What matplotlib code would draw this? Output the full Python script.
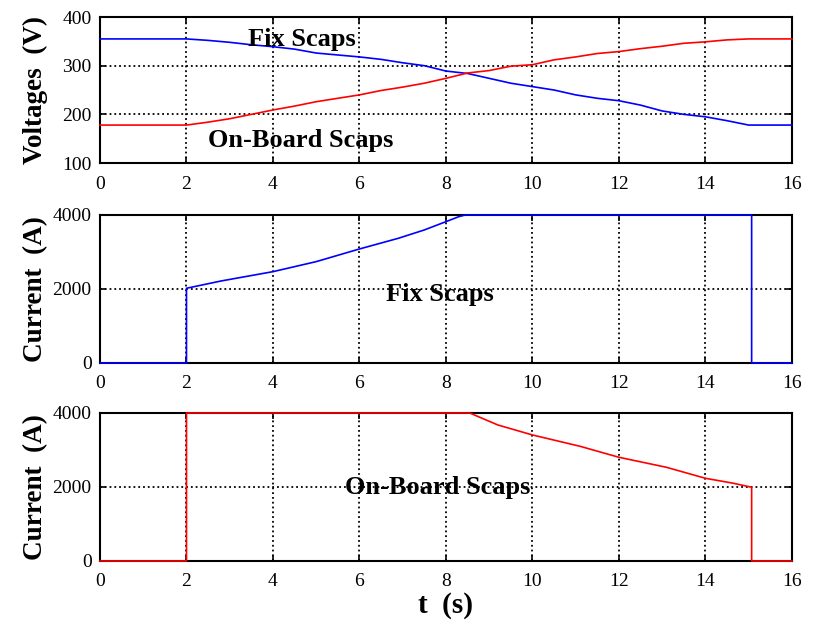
import numpy as np
import matplotlib
matplotlib.use('Agg')
import matplotlib.pyplot as plt

# Voltages (V)
t_v = [0, 2, 2.5, 3, 3.5, 4, 4.5, 5, 5.5, 6, 6.5, 7, 7.5, 8, 8.5, 9, 9.5,
       10, 10.5, 11, 11.5, 12, 12.5, 13, 13.5, 14, 14.5, 15, 16]
v_fix = [355, 355, 352, 348, 343, 339, 334, 326, 322, 318, 313, 306, 300, 289,
         284, 274, 264, 257, 250, 240, 233, 228, 219, 207, 200, 195, 187, 178, 178]
v_onboard = [178, 178, 184, 191, 200, 209, 217, 226, 233, 240, 249, 256, 264,
             274, 285, 290, 299, 302, 312, 318, 325, 329, 335, 340, 346, 349,
             353, 355, 355]

# Fix Scaps current (A)
t_ifix = [0, 2, 2, 2.8, 4, 5, 6, 6.9, 7.5, 8, 8.3, 8.45, 15.07, 15.07, 16]
i_fix = [0, 0, 2019, 2216, 2468, 2739, 3081, 3370, 3595, 3819, 3955, 4000,
         4000, 0, 0]

# On-Board Scaps current (A)
t_iob = [0, 2, 2, 8.55, 9.2, 10, 11.1, 12, 13.1, 14, 14.65, 15.07, 15.07, 16]
i_onboard = [0, 0, 4000, 4000, 3676, 3406, 3100, 2803, 2532, 2235, 2100, 1992,
             0, 0]

plt.rcParams['font.family'] = ['Liberation Serif', 'DejaVu Serif']

fig = plt.figure(figsize=(8.13, 6.28), dpi=100)
left, width = 0.123, 0.851
ax1 = fig.add_axes([left, 0.7404, width, 0.2325])
ax2 = fig.add_axes([left, 0.4220, width, 0.2357])
ax3 = fig.add_axes([left, 0.1067, width, 0.2357])

ax1.plot(t_v, v_fix, color='#0000ff', lw=1.2, zorder=3, clip_on=False)
ax1.plot(t_v, v_onboard, color='#ff0000', lw=1.2, zorder=3, clip_on=False)
ax1.set_ylim(100, 400)
ax1.set_yticks([100, 200, 300, 400])
ax1.set_ylabel('Voltages  (V)', fontsize=19.5, fontweight='bold')
ax1.text(4.68, 353, 'Fix Scaps', fontsize=19, fontweight='bold',
         ha='center', va='center')
ax1.text(4.65, 147, 'On-Board Scaps', fontsize=19, fontweight='bold',
         ha='center', va='center')

ax2.plot(t_ifix, i_fix, color='#0000ff', lw=1.2, zorder=3, clip_on=False)
ax2.set_ylim(0, 4000)
ax2.set_yticks([0, 2000, 4000])
ax2.set_ylabel('Current  (A)', fontsize=19.5, fontweight='bold')
ax2.text(7.86, 1838, 'Fix Scaps', fontsize=19, fontweight='bold',
         ha='center', va='center')

ax3.plot(t_iob, i_onboard, color='#ff0000', lw=1.2, zorder=3, clip_on=False)
ax3.set_ylim(0, 4000)
ax3.set_yticks([0, 2000, 4000])
ax3.set_ylabel('Current  (A)', fontsize=19.5, fontweight='bold')
ax3.text(7.8, 1973, 'On-Board Scaps', fontsize=19, fontweight='bold',
         ha='center', va='center')
ax3.set_xlabel('t  (s)', fontsize=21, fontweight='bold', labelpad=1)

for ax in (ax1, ax2, ax3):
    ax.set_xlim(0, 16)
    ax.set_xticks(np.arange(0, 17, 2))
    ax.grid(True, color='black', linestyle=':', linewidth=1.3)
    ax.tick_params(direction='in', top=True, right=True, labelsize=14,
                   length=4, width=1.2, pad=6)
    ax.tick_params(axis='x', pad=9)
    for sp in ax.spines.values():
        sp.set_linewidth(1.5)
    ax.yaxis.set_label_coords(-0.075, 0.5)

fig.savefig('out.png', dpi=100)
